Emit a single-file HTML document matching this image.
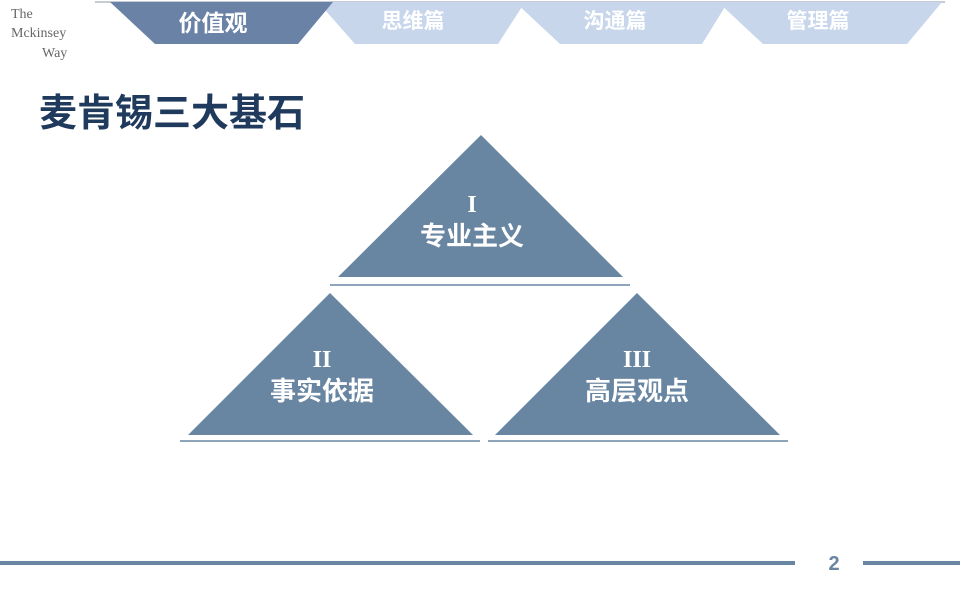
<!DOCTYPE html>
<html><head><meta charset="utf-8">
<style>
html,body{margin:0;padding:0;background:#fff;}
svg{display:block;}
text{font-family:"Liberation Sans","Noto Sans CJK SC",sans-serif;font-weight:bold;}
</style></head>
<body>
<svg width="960" height="600" viewBox="0 0 960 600" xmlns="http://www.w3.org/2000/svg">
  <rect width="960" height="600" fill="#fff"/>
  <line x1="95" y1="2" x2="945" y2="2" stroke="#c8ccd2" stroke-width="2"/>
  <polygon points="318,2 525,2 498,44 355,44" fill="#c7d6eb"/>
  <polygon points="515,2 728,2 702,44 560,44" fill="#c7d6eb"/>
  <polygon points="718,2 942,2 907,44 763,44" fill="#c7d6eb"/>
  <polygon points="110,2 333,2 298,44 155,44" fill="#6a82a6"/>
  <text x="213" y="31" font-size="23" fill="#fff" text-anchor="middle">价值观</text>
  <text x="413" y="28" font-size="21" fill="#fff" text-anchor="middle">思维篇</text>
  <text x="615" y="28" font-size="21" fill="#fff" text-anchor="middle">沟通篇</text>
  <text x="818" y="28" font-size="21" fill="#fff" text-anchor="middle">管理篇</text>
  <g fill="#666" font-size="14">
    <text x="11" y="18" style="font-family:'Liberation Serif',serif;font-weight:normal">The</text>
    <text x="11" y="37" style="font-family:'Liberation Serif',serif;font-weight:normal">Mckinsey</text>
    <text x="42" y="57" style="font-family:'Liberation Serif',serif;font-weight:normal">Way</text>
  </g>
  <text x="39" y="126" font-size="38" fill="#1f3a5c">麦肯锡三大基石</text>
  <polygon points="481,135 623,277 338,277" fill="#6886a2"/>
  <line x1="330" y1="285" x2="630" y2="285" stroke="#6886a2" stroke-width="1.5"/>
  <text x="472" y="212" font-size="24" fill="#fff" text-anchor="middle" style="font-family:'Liberation Serif',serif">I</text>
  <text x="472" y="245" font-size="26" fill="#fff" text-anchor="middle">专业主义</text>
  <polygon points="330,293 473,435 188,435" fill="#6886a2"/>
  <line x1="180" y1="441" x2="480" y2="441" stroke="#6886a2" stroke-width="1.5"/>
  <text x="322" y="367" font-size="24" fill="#fff" text-anchor="middle" style="font-family:'Liberation Serif',serif">II</text>
  <text x="322" y="400" font-size="26" fill="#fff" text-anchor="middle">事实依据</text>
  <polygon points="637,293 780,435 495,435" fill="#6886a2"/>
  <line x1="488" y1="441" x2="788" y2="441" stroke="#6886a2" stroke-width="1.5"/>
  <text x="637" y="367" font-size="24" fill="#fff" text-anchor="middle" style="font-family:'Liberation Serif',serif">III</text>
  <text x="637" y="400" font-size="26" fill="#fff" text-anchor="middle">高层观点</text>
  <line x1="0" y1="563" x2="795" y2="563" stroke="#6886a2" stroke-width="4"/>
  <line x1="863" y1="563" x2="960" y2="563" stroke="#6886a2" stroke-width="4"/>
  <text x="834" y="570" font-size="20" fill="#6886a2" text-anchor="middle">2</text>
</svg>
</body></html>
